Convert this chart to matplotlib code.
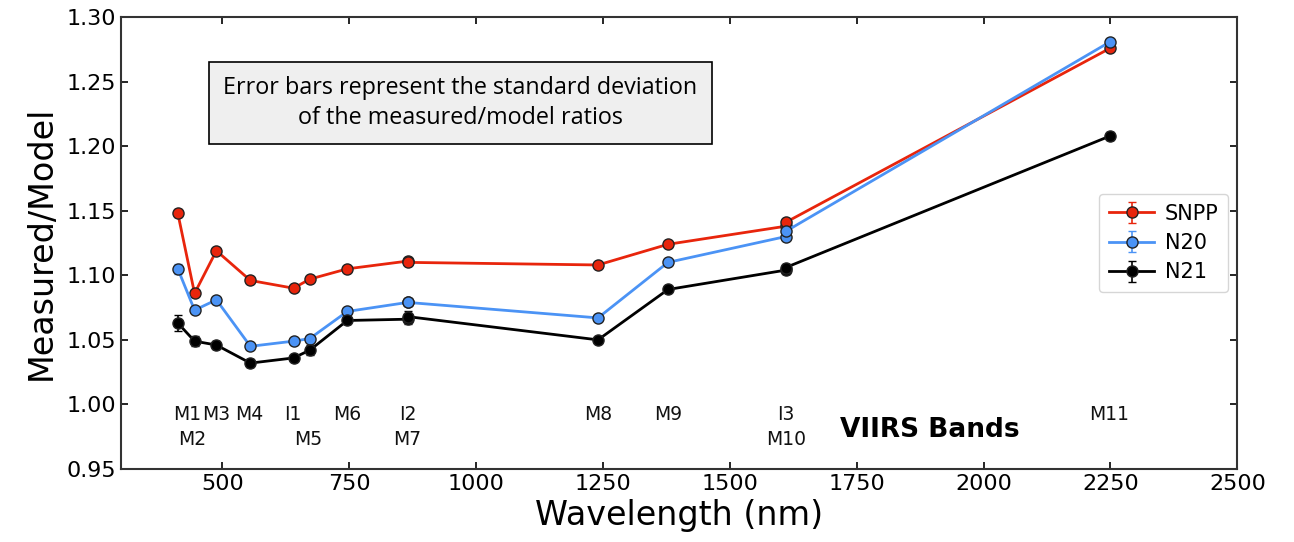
import matplotlib
matplotlib.use('Agg')
import matplotlib.pyplot as plt
import numpy as np

# VIIRS band centre wavelengths (nm), in plotting order
bands = ['M1', 'M2', 'M3', 'M4', 'I1', 'M5', 'M6', 'I2', 'M7', 'M8', 'M9', 'I3', 'M10', 'M11']
wavelength = [412, 445, 488, 555, 640, 672, 746, 865, 865, 1240, 1378, 1610, 1610, 2250]

snpp = [1.148, 1.086, 1.119, 1.096, 1.090, 1.097, 1.105, 1.111, 1.110, 1.108, 1.124, 1.138, 1.141, 1.276]
snpp_err = [0.003, 0.002, 0.002, 0.002, 0.002, 0.002, 0.002, 0.002, 0.002, 0.002, 0.002, 0.002, 0.002, 0.002]
n20 = [1.105, 1.073, 1.081, 1.045, 1.049, 1.051, 1.072, 1.079, 1.079, 1.067, 1.110, 1.130, 1.134, 1.281]
n20_err = [0.004, 0.002, 0.002, 0.002, 0.002, 0.002, 0.002, 0.002, 0.002, 0.002, 0.002, 0.002, 0.002, 0.002]
n21 = [1.063, 1.049, 1.046, 1.032, 1.036, 1.042, 1.065, 1.066, 1.068, 1.050, 1.089, 1.104, 1.106, 1.208]
n21_err = [0.006, 0.004, 0.003, 0.003, 0.002, 0.004, 0.003, 0.004, 0.004, 0.002, 0.002, 0.003, 0.003, 0.003]

# band label placement (nm) and row (0 = upper, 1 = lower)
label_x = [430, 441, 487, 552, 638, 669, 745, 865, 865, 1240, 1378, 1610, 1610, 2247]
label_row = [0, 1, 0, 0, 0, 1, 0, 0, 1, 0, 0, 0, 1, 0]

fig = plt.figure(figsize=(12.94, 5.42), dpi=100)
ax = fig.add_axes([0.0935, 0.1347, 0.8627, 0.8339])

series = [('SNPP', snpp, snpp_err, '#e8250c'),
          ('N20', n20, n20_err, '#4b93f5'),
          ('N21', n21, n21_err, 'black')]
for name, vals, err, col in series:
    ax.errorbar(wavelength, vals, yerr=err, color=col, lw=2, marker='o', ms=8,
                mfc=col, mec='#222222', mew=1, capsize=3, elinewidth=1.2, label=name)

ax.set_xlim(300, 2500)
ax.set_ylim(0.95, 1.30)
ax.set_xticks(np.arange(500, 2501, 250))
ax.set_yticks(np.arange(0.95, 1.301, 0.05))
ax.set_yticklabels(['%.2f' % v for v in np.arange(0.95, 1.301, 0.05)])
ax.tick_params(direction='in', top=True, right=True, labelsize=16, length=5, width=1.2)
for s in ax.spines.values():
    s.set_linewidth(1.5)
    s.set_color('#333333')

ax.set_xlabel('Wavelength (nm)', fontsize=24, labelpad=4)
ax.set_ylabel('Measured/Model', fontsize=24, labelpad=6)

row_y = [0.9925, 0.9725]
for b, x, r in zip(bands, label_x, label_row):
    ax.text(x, row_y[r], b, ha='center', va='center', fontsize=13.5, color='#111111')
ax.text(1894, 0.980, 'VIIRS Bands', ha='center', va='center', fontsize=19, fontweight='bold')

ax.text(0.304, 0.81, 'Error bars represent the standard deviation\nof the measured/model ratios',
        transform=ax.transAxes, ha='center', va='center', fontsize=16.8, family='Open Sans',
        linespacing=1.3,
        bbox=dict(boxstyle='square,pad=0.62', facecolor='#efefef', edgecolor='black', lw=1.2))

ax.legend(loc='center right', bbox_to_anchor=(1.001, 0.50), fontsize=15,
          handlelength=2.2, borderpad=0.45, labelspacing=0.45, handletextpad=0.5)

plt.savefig('out.png', dpi=100)
